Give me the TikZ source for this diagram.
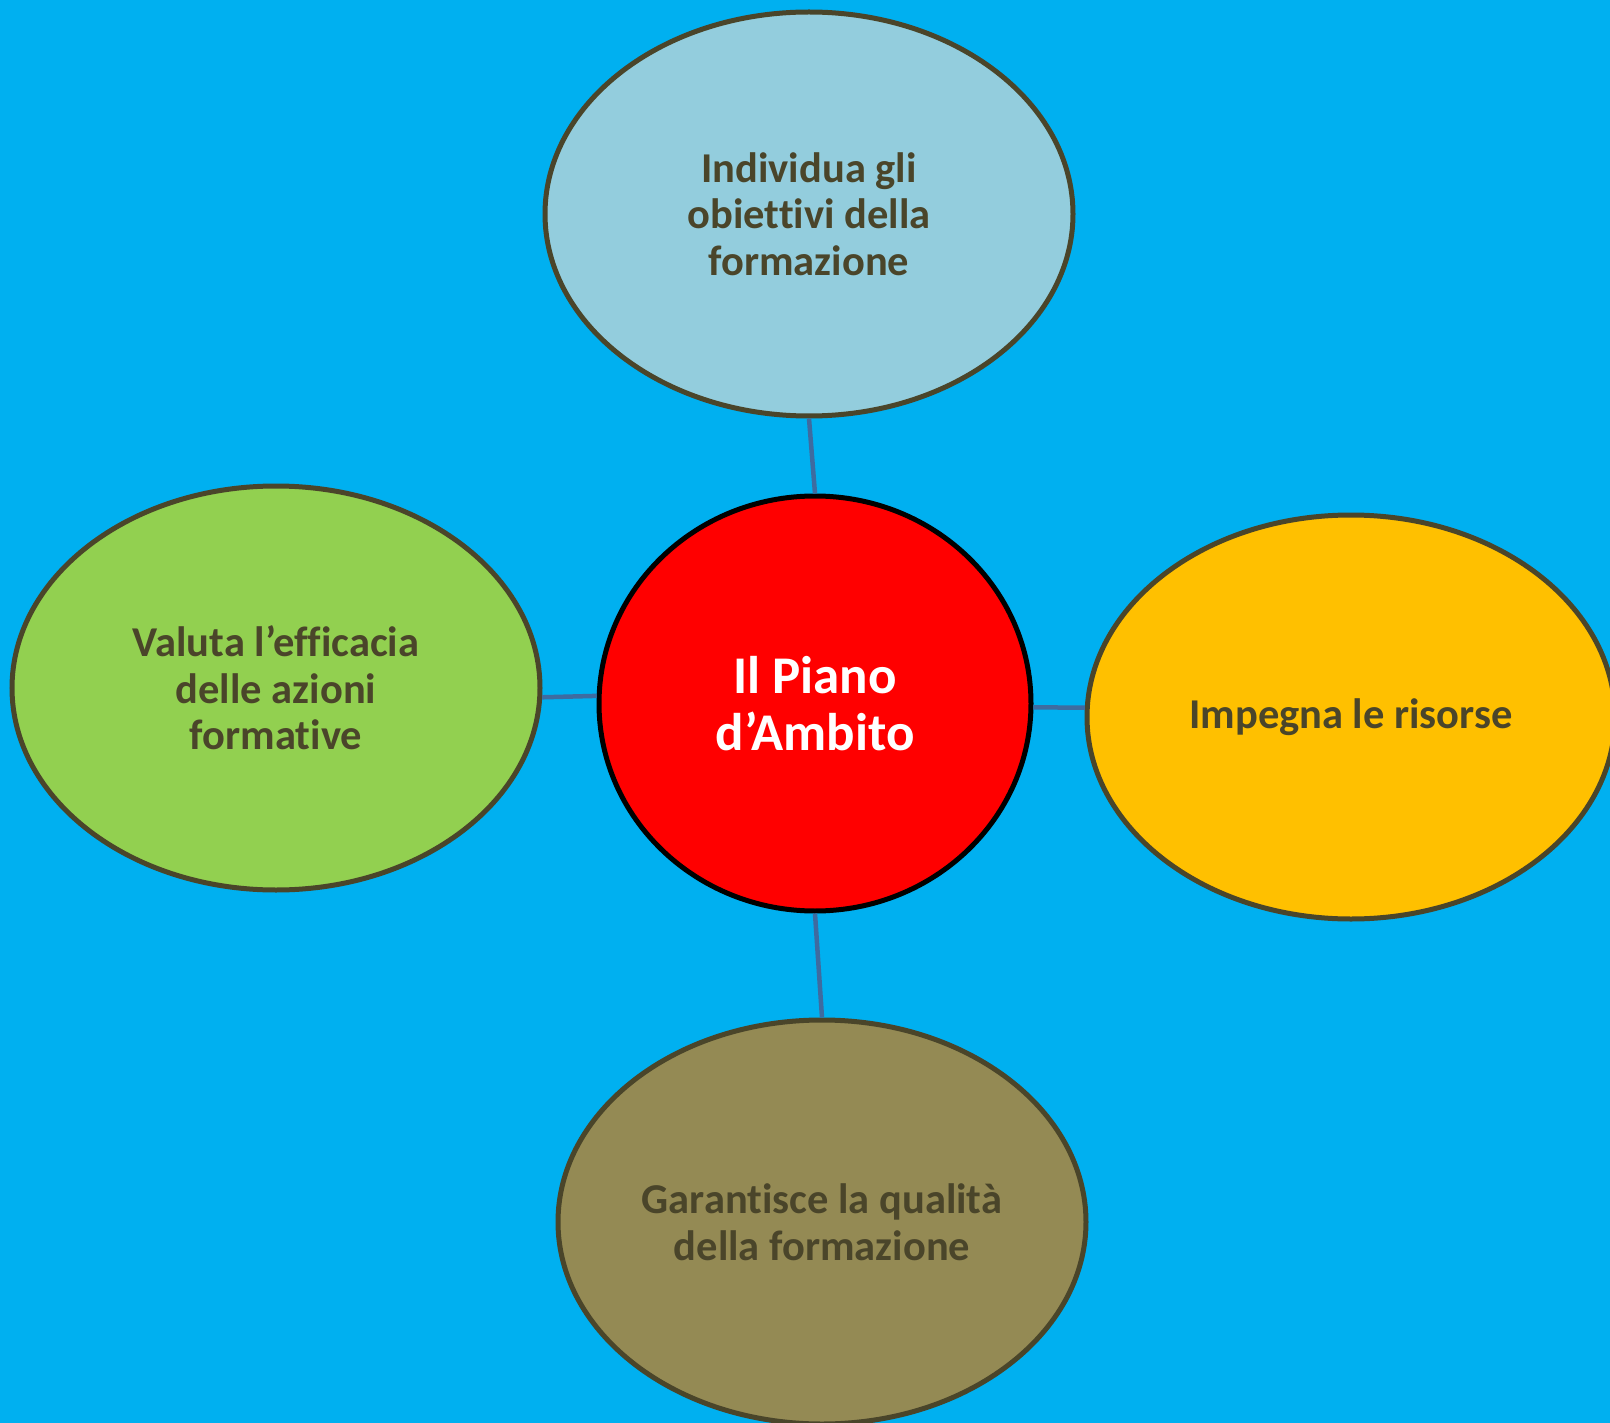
\documentclass[tikz,border=0pt]{standalone}
\usepackage{fontspec}
\setmainfont{Carlito}[Ligatures=NoCommon]
\usetikzlibrary{shapes.geometric}
\definecolor{bgblue}{HTML}{00B0F0}
\definecolor{edgeol}{HTML}{4A452A}
\definecolor{linkblue}{HTML}{3E6BA0}
\definecolor{topfill}{HTML}{93CDDD}
\definecolor{rightfill}{HTML}{FFC000}
\definecolor{leftfill}{HTML}{92D050}
\definecolor{botfill}{HTML}{948A54}
\definecolor{centerfill}{HTML}{FF0000}
\tikzset{
  bubble/.style={ellipse, draw=edgeol, line width=5pt, inner sep=0pt,
    minimum width=528pt, minimum height=404pt, align=center,
    text=edgeol, font=\fontsize{42.5}{46.5}\selectfont\bfseries},
  hub/.style={ellipse, draw=black, line width=5pt, fill=centerfill, inner sep=0pt,
    minimum width=432pt, minimum height=415pt, align=center,
    text=white, font=\fontsize{53}{56.5}\selectfont\bfseries},
  link/.style={draw=linkblue, line width=4.5pt}
}
\begin{document}
\begin{tikzpicture}[x=1pt,y=-1pt]
\useasboundingbox (0,0) rectangle (1610,1423);
\clip (0,0) rectangle (1610,1423);
\fill[bgblue] (0,0) rectangle (1610,1423);
\node[bubble, fill=topfill] (top) at (809,214) {Individua gli\\obiettivi della\\formazione};
\node[bubble, fill=leftfill] (left) at (276,688) {Valuta l’efficacia\\delle azioni\\formative};
\node[bubble, fill=rightfill] (right) at (1351,717) {Impegna le risorse};
\node[bubble, fill=botfill] (bottom) at (822,1222) {Garantisce la qualità\\della formazione};
\node[hub] (hub) at (815,703.5) {Il Piano\\d’Ambito};
\draw[link] (top.south) -- (hub.north);
\draw[link] (left.-2) -- (hub.178);
\draw[link] (hub.-1) -- (right.178);
\draw[link] (hub.south) -- (bottom.north);
\end{tikzpicture}
\end{document}
